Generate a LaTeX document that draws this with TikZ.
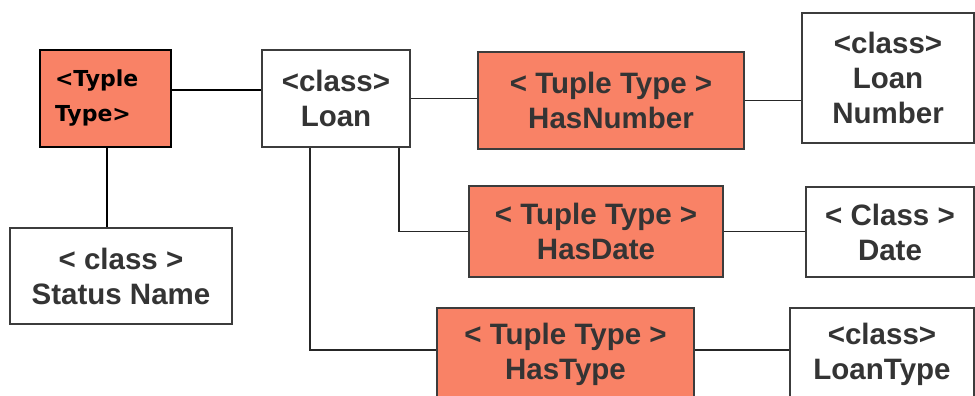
\documentclass[tikz,border=0pt]{standalone}
\usepackage{fontspec}
\setmainfont{Liberation Sans}
\newfontfamily\typfont{DejaVu Sans}
\definecolor{salmon}{RGB}{249,130,102}
\definecolor{inkgray}{RGB}{52,52,52}
\definecolor{edgegray}{RGB}{60,60,60}
\tikzset{
  box/.style={draw=edgegray, line width=1.4pt, rectangle, inner sep=0pt,
    align=center, text=inkgray, font=\bfseries\fontsize{29.5}{35}\selectfont},
  classbox/.style={box, fill=white},
  tuplebox/.style={box, fill=salmon},
  rootbox/.style={draw=black, line width=2.4pt, fill=salmon, rectangle, inner sep=0pt,
    text=black, align=left, font=\typfont\bfseries\fontsize{22}{35}\selectfont},
  link/.style={draw=black!85, line width=1.4pt},
  rootlink/.style={draw=black, line width=2.4pt}
}
\begin{document}
\begin{tikzpicture}[x=1pt, y=-1pt]
  \clip (0,0) rectangle (975,396);
  \useasboundingbox (0,0) rectangle (975,396);
  \fill[white] (0,0) rectangle (975,396);

  % left branch
  \node[rootbox, minimum width=131pt, minimum height=97pt, text width=101pt] (tt) at (105.5,98.5) {<Typle\\Type>};
  \node[classbox, minimum width=222pt, minimum height=96pt] (sn) at (121,276) {< class >\\Status Name};

  % central class
  \node[classbox, minimum width=148pt, minimum height=97pt] (loan) at (336,98.5) {<class>\\Loan};

  % tuple types
  \node[tuplebox, minimum width=266pt, minimum height=97pt] (hn) at (611,100.5) {< Tuple Type >\\HasNumber};
  \node[tuplebox, minimum width=254pt, minimum height=91pt] (hd) at (596,231.5) {< Tuple Type >\\HasDate};
  \node[tuplebox, minimum width=257pt, minimum height=92pt] (ht) at (565.5,354) {< Tuple Type >\\HasType};

  % value classes
  \node[classbox, minimum width=172pt, minimum height=130pt] (ln) at (888,78) {<class>\\Loan\\Number};
  \node[classbox, minimum width=168pt, minimum height=90pt] (dt) at (890,232) {< Class >\\Date};
  \node[classbox, minimum width=184pt, minimum height=92pt] (lt) at (882,354) {<class>\\LoanType};

  % connectors
  \draw[rootlink] ([yshift=8.5pt]tt.east) -- ([yshift=8.5pt]tt.east -| loan.west);
  \draw[rootlink] ([xshift=1.5pt]tt.south) -- ([xshift=1.5pt]tt.south |- sn.north);
  \draw[link] (loan.east) -- (loan.east -| hn.west);
  \draw[link] (hn.east) -- (hn.east -| ln.west);
  \draw[link] ([xshift=63pt]loan.south) |- (hd.west);
  \draw[link] (hd.east) -- (hd.east -| dt.west);
  \draw[link] ([xshift=-26pt]loan.south) |- ([yshift=4pt]ht.west);
  \draw[link] ([yshift=4pt]ht.east) -- ([yshift=4pt]ht.east -| lt.west);
\end{tikzpicture}
\end{document}
